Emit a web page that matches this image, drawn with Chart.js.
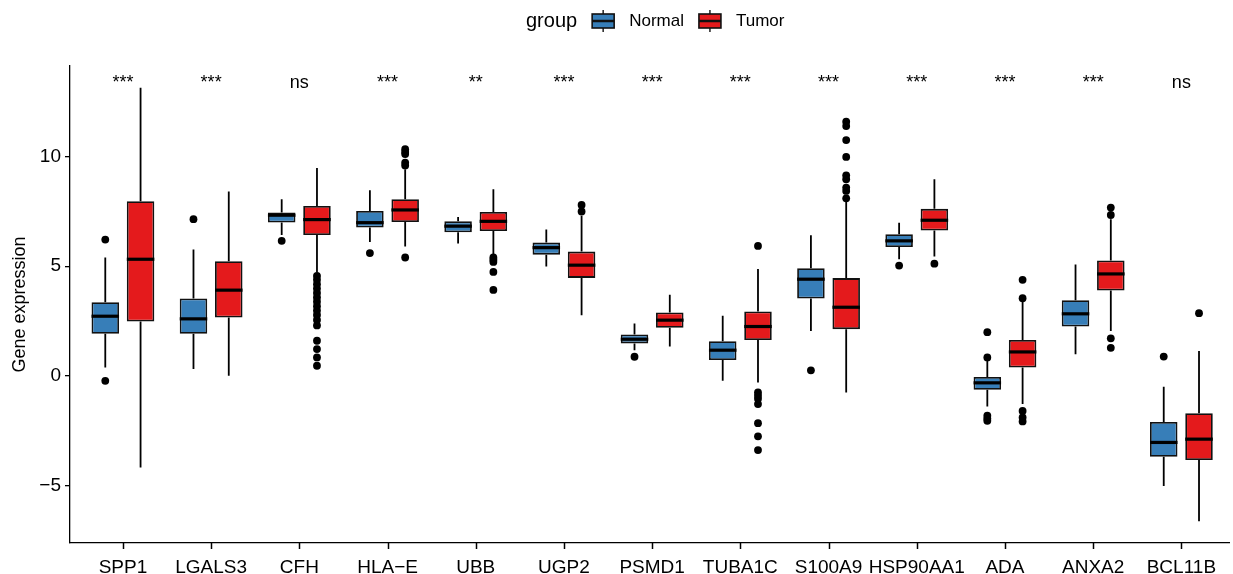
<!DOCTYPE html>
<html lang="en">
<head>
    <meta charset="UTF-8">
    <title>Gene expression - Normal vs Tumor</title>
    <script src="https://cdn.jsdelivr.net/npm/chart.js@4"></script>
    <style>
        html, body { margin: 0; padding: 0; background: #fff; overflow: hidden; }
        #chart-container { width: 1233px; height: 574px; position: relative; }
    </style>
</head>
<body>
    <div id="chart-container">
        <canvas id="myChart"></canvas>
    </div>
<script>
// Genes on the x axis and the significance label over each pair
const genes = ["SPP1", "LGALS3", "CFH", "HLA\u2212E", "UBB", "UGP2", "PSMD1", "TUBA1C", "S100A9", "HSP90AA1", "ADA", "ANXA2", "BCL11B"]
const signif = ["***", "***", "ns", "***", "**", "***", "***", "***", "***", "***", "***", "***", "ns"]
const yTicks = [-5, 0, 5, 10]

// Normal group: whisker ends, quartiles, median, outliers
const normalLow    = [0.38, 0.31, 6.43, 6.11, 6.04, 4.99, 1.17, -0.23, 2.05, 5.32, -1.40, 0.98, -5.03]
const normalQ1     = [1.92, 1.92, 7.00, 6.77, 6.55, 5.53, 1.48, 0.72, 3.53, 5.88, -0.64, 2.25, -3.69]
const normalMedian = [2.72, 2.60, 7.33, 6.99, 6.83, 5.85, 1.67, 1.17, 4.41, 6.16, -0.32, 2.83, -3.04]
const normalQ3     = [3.36, 3.53, 7.45, 7.52, 7.05, 6.08, 1.89, 1.58, 4.91, 6.46, -0.05, 3.45, -2.11]
const normalHigh   = [5.40, 5.76, 8.06, 8.47, 7.25, 6.68, 2.39, 2.74, 6.42, 6.99, 0.68, 5.08, -0.50]
const normalOutliers = [
    [6.22, -0.23], [7.15], [6.16], [5.60], [], [], [0.87], [], [0.25], [5.03],
    [1.99, 0.84, -1.82, -1.95, -2.05], [], [0.88]
]

// Tumor group
const tumorLow    = [-4.18, 0.00, 4.71, 5.90, 5.47, 2.77, 1.34, -0.30, -0.76, 5.44, -1.29, 2.05, -6.64]
const tumorQ1     = [2.48, 2.66, 6.43, 7.02, 6.61, 4.47, 2.19, 1.63, 2.13, 6.63, 0.38, 3.89, -3.84]
const tumorMedian = [5.32, 3.91, 7.13, 7.57, 7.05, 5.05, 2.54, 2.25, 3.13, 7.10, 1.09, 4.65, -2.89]
const tumorQ3     = [7.97, 5.23, 7.75, 8.06, 7.48, 5.67, 2.89, 2.94, 4.46, 7.62, 1.64, 5.26, -1.71]
const tumorHigh   = [13.15, 8.41, 9.49, 9.43, 8.51, 7.30, 3.70, 4.87, 7.98, 8.97, 3.42, 7.15, 1.13]
const tumorOutliers = [
    [], [],
    [4.56, 4.38, 4.18, 3.98, 3.78, 3.58, 3.38, 3.18, 2.98, 2.78, 2.55, 2.30, 1.60, 1.22, 0.84, 0.46],
    [10.34, 10.22, 10.12, 9.73, 9.60, 5.40],
    [5.40, 5.30, 5.20, 4.74, 3.92],
    [7.80, 7.50], [], [5.93, -0.76, -0.91, -1.05, -1.29, -2.16, -2.76, -3.39],
    [11.60, 11.40, 10.76, 9.99, 9.15, 8.97, 8.59, 8.44, 8.10],
    [5.12], [4.38, 3.54, -1.60, -1.90, -2.08], [7.68, 7.34, 1.71, 1.28], [2.86]
]

const groups = [
    { name: "Normal", color: "#377EB8", low: normalLow, q1: normalQ1, med: normalMedian, q3: normalQ3, high: normalHigh, out: normalOutliers },
    { name: "Tumor", color: "#E41A1C", low: tumorLow, q1: tumorQ1, med: tumorMedian, q3: tumorQ3, high: tumorHigh, out: tumorOutliers }
]

const FONT = '"Liberation Sans", Arial, Helvetica, sans-serif'
const categoryPct = 0.8
const dodge = categoryPct / 4 // offset of each group from the category centre

// y range: data range plus 5% each side (ggplot default)
const allValues = groups.flatMap(g => [...g.low, ...g.high, ...g.out.flat()])
const dataMax = Math.max(...allValues)
const dataMin = Math.min(...allValues)
const pad = (dataMax - dataMin) * 0.05

// Whiskers, medians and significance labels drawn from the bar elements and scales
const boxParts = {
    id: "boxParts",
    beforeDatasetsDraw(chart) {
        const ctx = chart.ctx
        const y = chart.scales.y
        ctx.save()
        ctx.strokeStyle = "#000"
        ctx.lineWidth = 1.8
        groups.forEach((g, d) => {
            chart.getDatasetMeta(d).data.forEach((bar, i) => {
                ctx.beginPath()
                ctx.moveTo(bar.x, y.getPixelForValue(g.high[i]))
                ctx.lineTo(bar.x, y.getPixelForValue(g.q3[i]))
                ctx.moveTo(bar.x, y.getPixelForValue(g.q1[i]))
                ctx.lineTo(bar.x, y.getPixelForValue(g.low[i]))
                ctx.stroke()
            })
        })
        ctx.restore()
    },
    afterDatasetsDraw(chart) {
        const ctx = chart.ctx
        const x = chart.scales.x
        const y = chart.scales.y
        ctx.save()
        ctx.strokeStyle = "#000"
        ctx.lineWidth = 3.2
        groups.forEach((g, d) => {
            chart.getDatasetMeta(d).data.forEach((bar, i) => {
                const py = y.getPixelForValue(g.med[i])
                ctx.beginPath()
                ctx.moveTo(bar.x - bar.width / 2, py)
                ctx.lineTo(bar.x + bar.width / 2, py)
                ctx.stroke()
            })
        })
        // significance labels at the height of the highest value
        ctx.fillStyle = "#000"
        ctx.font = "18px " + FONT
        ctx.textAlign = "center"
        ctx.textBaseline = "alphabetic"
        signif.forEach((s, i) => {
            ctx.fillText(s, x.getPixelForValue(i), y.getPixelForValue(dataMax))
        })
        ctx.restore()
    },
    afterDraw(chart) {
        // tick marks under the x axis, one per gene
        const ctx = chart.ctx
        const x = chart.scales.x
        const bottom = x.top
        ctx.save()
        ctx.strokeStyle = "#000"
        ctx.lineWidth = 1.5
        genes.forEach((g, i) => {
            const px = Math.round(x.getPixelForValue(i)) + 0.5
            ctx.beginPath()
            ctx.moveTo(px, bottom)
            ctx.lineTo(px, bottom + 6)
            ctx.stroke()
        })
        ctx.restore()
    }
}

// Legend drawn like ggplot: title, then a small box key per group
const groupLegend = {
    id: "groupLegend",
    afterDraw(chart) {
        const ctx = chart.ctx
        const cy = 21
        let left = 526
        ctx.save()
        ctx.fillStyle = "#000"
        ctx.textBaseline = "middle"
        ctx.font = "20px " + FONT
        ctx.fillText("group", left, cy)
        left += ctx.measureText("group").width + 15
        ctx.font = "17px " + FONT
        groups.forEach(g => {
            const w = 22, h = 14, cx = left + w / 2
            ctx.strokeStyle = "#111"
            ctx.lineWidth = 1.4
            ctx.beginPath()
            ctx.moveTo(cx, cy - 11)
            ctx.lineTo(cx, cy + 11)
            ctx.stroke()
            ctx.fillStyle = g.color
            ctx.fillRect(left, cy - h / 2, w, h)
            ctx.lineWidth = 1.6
            ctx.strokeRect(left, cy - h / 2, w, h)
            ctx.lineWidth = 2.5
            ctx.beginPath()
            ctx.moveTo(left, cy)
            ctx.lineTo(left + w, cy)
            ctx.stroke()
            ctx.fillStyle = "#000"
            ctx.fillText(g.name, left + w + 15, cy)
            left += w + 15 + ctx.measureText(g.name).width + 15
        })
        ctx.restore()
    }
}

const boxDatasets = groups.map(g => ({
    type: "bar",
    label: g.name,
    data: genes.map((_, i) => ({ x: i, y: [g.q1[i], g.q3[i]] })),
    backgroundColor: g.color,
    borderColor: "#111",
    borderWidth: 1.8,
    borderSkipped: false,
    categoryPercentage: categoryPct,
    barPercentage: 0.78
}))

const outlierDatasets = groups.map((g, d) => ({
    type: "scatter",
    label: g.name + " outliers",
    data: g.out.flatMap((vals, i) => vals.map(v => ({ x: i + (d === 0 ? -dodge : dodge), y: v }))),
    pointRadius: 3.9,
    pointBackgroundColor: "#000",
    pointBorderWidth: 0,
    showLine: false
}))

const ctx = document.getElementById("myChart")
new Chart(ctx, {
    type: "bar",
    data: { datasets: [...boxDatasets, ...outlierDatasets] },
    options: {
        responsive: true,
        maintainAspectRatio: false,
        animation: false,
        layout: { padding: { top: 66, right: 0, left: 0, bottom: 0 } },
        plugins: {
            legend: { display: false },
            tooltip: { enabled: false }
        },
        scales: {
            x: {
                type: "linear",
                min: -0.6,
                max: 12.54,
                offset: false,
                afterBuildTicks: scale => { scale.ticks = genes.map((_, i) => ({ value: i })) },
                afterFit: scale => { scale.height = 31 },
                grid: { display: false },
                border: { display: true, color: "#000", width: 1.3 },
                ticks: {
                    autoSkip: false,
                    maxRotation: 0,
                    padding: 5,
                    color: "#000",
                    font: { family: FONT, size: 19 },
                    callback: v => genes[v]
                }
            },
            y: {
                min: dataMin - pad,
                max: dataMax + pad,
                afterBuildTicks: scale => { scale.ticks = yTicks.map(v => ({ value: v })) },
                afterFit: scale => { scale.width = 70 },
                grid: { display: true, drawOnChartArea: false, drawTicks: true, tickLength: 5, color: "#000", lineWidth: 1.3 },
                border: { display: true, color: "#000", width: 1.3 },
                ticks: {
                    padding: 4,
                    color: "#000",
                    font: { family: FONT, size: 19 },
                    callback: v => v < 0 ? "\u2212" + Math.abs(v) : String(v)
                },
                title: {
                    display: true,
                    text: "Gene expression",
                    color: "#000",
                    font: { family: FONT, size: 18 },
                    padding: { top: 9, bottom: 0 }
                }
            }
        }
    },
    plugins: [boxParts, groupLegend]
})
</script>
</body>
</html>
